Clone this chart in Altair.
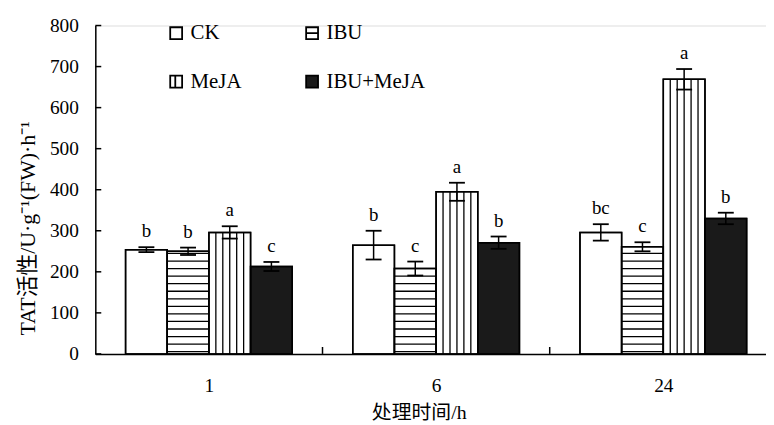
import altair as alt
import pandas as pd

# ---- data ----
groups = ["1", "6", "24"]
treatments = ["CK", "IBU", "MeJA", "IBU+MeJA"]
ck = [254, 265, 296]
ibu = [250, 208, 261]
meja = [296, 395, 669]
both = [213, 271, 330]
ck_err = [6, 35, 20]
ibu_err = [9, 17, 11]
meja_err = [15, 22, 25]
both_err = [11, 15, 14]
ck_sig = ["b", "b", "bc"]
ibu_sig = ["b", "c", "c"]
meja_sig = ["a", "a", "a"]
both_sig = ["c", "b", "b"]
y_ticks = [0, 100, 200, 300, 400, 500, 600, 700, 800]

values = [ck, ibu, meja, both]
errs = [ck_err, ibu_err, meja_err, both_err]
sigs = [ck_sig, ibu_sig, meja_sig, both_sig]

BW = 0.1834  # bar width in group units

rows = []
for ti, t in enumerate(treatments):
    for gi, g in enumerate(groups):
        x0 = gi + (ti - 2) * BW
        rows.append(dict(treatment=t, group=g, x0=x0, x1=x0 + BW, xc=x0 + BW / 2,
                         value=values[ti][gi], err=errs[ti][gi], sig=sigs[ti][gi]))
df = pd.DataFrame(rows)

# hatching patterns (decoration)
hrows = []
for r in rows:
    if r["treatment"] == "IBU":
        lvl = 5.5
        while lvl < r["value"] - 3:
            hrows.append(dict(x0=r["x0"], x1=r["x1"], level=lvl))
            lvl += 18.4
hdf = pd.DataFrame(hrows)
vrows = []
for r in rows:
    if r["treatment"] == "MeJA":
        for j in range(1, 6):
            vrows.append(dict(xv=r["x0"] + j * BW / 6, top=r["value"]))
vdf = pd.DataFrame(vrows)

FONT = "Liberation Serif"
CJK = "Liberation Serif, Noto Sans CJK SC"
W, H = 676, 331

xscale = alt.Scale(domain=[-0.5, 2.452], nice=False, zero=False)
yscale = alt.Scale(domain=[0, 800], nice=False)

label_expr = "[" + ",".join("'%s'" % g for g in groups) + "][datum.value]"
xaxis = alt.Axis(values=[0, 1, 2], labelExpr=label_expr, ticks=False, grid=False,
                 domainColor="black", domainWidth=1.5, labelFont=FONT, labelFontSize=19.5,
                 labelColor="black", labelPadding=23, labelAngle=0,
                 title="处理时间/h", titleFont=CJK, titleFontSize=20, titleFontWeight="normal",
                 titleColor="black", titleX=326, titleY=59, titleBaseline="middle",
                 titleAnchor="start", titleAlign="center")
yaxis = alt.Axis(values=y_ticks, ticks=False, grid=False, domainColor="black", domainWidth=1.5,
                 labelFont=FONT, labelFontSize=19.5, labelColor="black", labelPadding=17,
                 title="TAT活性/U·g⁻¹(FW)·h⁻¹", titleFont=CJK, titleFontSize=22,
                 titleFontWeight="normal", titleColor="black", titleX=-68, titleY=204,
                 titleAngle=-90, titleBaseline="middle", titleAlign="center")

fill_scale = alt.Scale(domain=treatments, range=["white", "white", "white", "#1a1a1a"])
stroke_scale = alt.Scale(domain=treatments, range=["black", "black", "black", "black"])
shape_scale = alt.Scale(domain=treatments, range=[
    "M-1,-1H1V1H-1Z",
    "M-1,-1H1V1H-1Z M-1,0H1",
    "M-1,-1H1V1H-1Z M-0.15,-1V1",
    "M-1,-1H1V1H-1Z",
])

base = alt.Chart(df)

bars = base.mark_rect(stroke="black", strokeWidth=1.5).encode(
    x=alt.X("x0:Q", scale=xscale, axis=xaxis),
    x2="x1:Q",
    y=alt.Y("value:Q", scale=yscale, axis=yaxis),
    y2=alt.datum(0),
    fill=alt.condition(alt.datum.treatment == treatments[3], alt.value("#1a1a1a"), alt.value("white")),
)

hatch_h = alt.Chart(hdf).mark_rule(color="black", strokeWidth=1.3).encode(
    x="x0:Q", x2="x1:Q", y="level:Q"
)
hatch_v = alt.Chart(vdf).mark_rule(color="black", strokeWidth=1.3).encode(
    x="xv:Q", y="top:Q", y2=alt.datum(0)
)
outline = base.mark_rect(fillOpacity=0, stroke="black", strokeWidth=1.5).encode(
    x="x0:Q", x2="x1:Q", y="value:Q", y2=alt.datum(0)
)

errb = base.transform_calculate(
    lo="datum.value - datum.err", hi="datum.value + datum.err",
    cl="datum.xc - 0.035", cr="datum.xc + 0.035",
)
err_line = errb.mark_rule(color="black", strokeWidth=1.5).encode(x="xc:Q", y="lo:Q", y2="hi:Q")
cap_hi = errb.mark_rule(color="black", strokeWidth=1.8).encode(x="cl:Q", x2="cr:Q", y="hi:Q")
cap_lo = errb.mark_rule(color="black", strokeWidth=1.8).encode(x="cl:Q", x2="cr:Q", y="lo:Q")
letters = errb.mark_text(baseline="bottom", dy=-6, font=FONT, fontSize=19, color="black").encode(
    x="xc:Q", y="hi:Q", text="sig:N"
)

yt = alt.Chart(pd.DataFrame({"t": y_ticks})).mark_rule(color="black", strokeWidth=1.5).encode(
    y="t:Q", x=alt.value(0), x2=alt.value(6)
)
xt = alt.Chart(pd.DataFrame({"b": [0.5, 1.5]})).mark_rule(color="black", strokeWidth=1.5).encode(
    x="b:Q", y=alt.value(H), y2=alt.value(H - 7)
)

leg = dict(title=None, orient="none", legendX=71, legendY=-3, columns=2, direction="horizontal",
           labelFont=FONT, labelFontSize=21, labelColor="black", labelOffset=4,
           symbolSize=144, symbolStrokeWidth=1.8, symbolStrokeColor="black", symbolOpacity=1,
           columnPadding=60, rowPadding=27, padding=0)
legend_pts = base.mark_point(filled=True, strokeWidth=1.8, opacity=1, clip=True).encode(
    x="xc:Q",
    y=alt.datum(-300),
    fill=alt.Fill("treatment:N", scale=fill_scale, legend=alt.Legend(**leg)),
    stroke=alt.Stroke("treatment:N", scale=stroke_scale, legend=alt.Legend(**leg)),
    shape=alt.Shape("treatment:N", scale=shape_scale, legend=alt.Legend(**leg)),
)

chart = alt.layer(
    bars, hatch_h, hatch_v, outline, err_line, cap_hi, cap_lo, letters, yt, xt, legend_pts
).properties(
    width=W, height=H,
    autosize=alt.AutoSizeParams(type="none"),
    padding={"left": 88, "top": 16, "right": 0, "bottom": 72},
).configure_view(stroke=None).configure(background="white")

chart.save("out.html", embed_options={"renderer": "svg", "actions": False})
